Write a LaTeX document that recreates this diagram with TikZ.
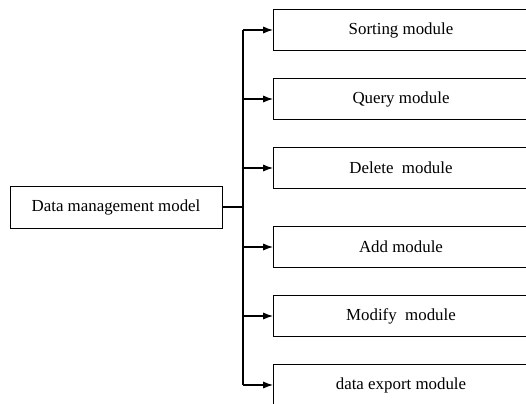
\documentclass[tikz,border=0pt]{standalone}
\usepackage{fontspec}
\setmainfont{Liberation Serif}
\usetikzlibrary{arrows.meta,positioning,calc}

\tikzset{
  modbox/.style={draw, line width=0.6pt, minimum width=6.375cm, minimum height=1.025cm, inner sep=0pt, font=\fontsize{12}{14}\selectfont},
  rootbox/.style={draw, line width=0.6pt, minimum width=5.3cm, minimum height=1.05cm, inner sep=0pt, font=\fontsize{12}{14}\selectfont},
  link/.style={line width=1.1pt},
  branch/.style={line width=0.8pt, -{Latex[length=7pt,width=5pt]}}
}

\begin{document}
\begin{tikzpicture}[x=0.025cm, y=-0.025cm]
% Frame
\useasboundingbox (0,0) rectangle (526,403);
\clip (0,0) rectangle (526,403);

% Main model on the left
\node[rootbox] (model) at (116,207) {Data management model};

% Modules on the right
\node[modbox] (sorting) at (401,30)  {Sorting module};
\node[modbox] (query)   at (401,99)  {Query module};
\node[modbox] (delete)  at (401,168) {Delete\ \ module};
\node[modbox] (add)     at (401,247) {Add module};
\node[modbox] (modify)  at (401,316) {Modify\ \ module};
\node[modbox] (export)  at (401,385) {data export module};

% Trunk
\coordinate (split) at (243,207);
\draw[link] (model.east) -- (split);
\draw[link] (split |- sorting.west) -- (split |- export.west);

% Branches
\draw[branch] (split |- sorting.west) -- (sorting.west);
\draw[branch] (split |- query.west) -- (query.west);
\draw[branch] (split |- delete.west) -- (delete.west);
\draw[branch] (split |- add.west) -- (add.west);
\draw[branch] (split |- modify.west) -- (modify.west);
\draw[branch] (split |- export.west) -- (export.west);

\end{tikzpicture}
\end{document}
